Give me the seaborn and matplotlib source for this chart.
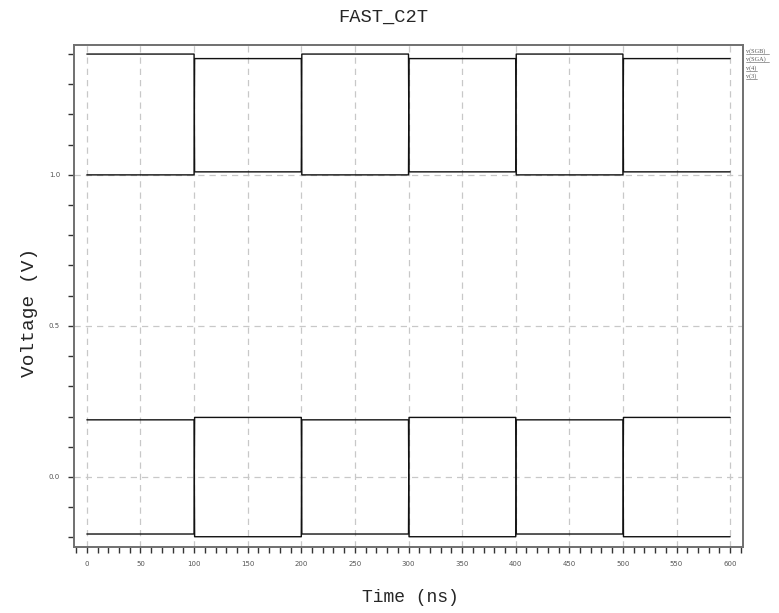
import matplotlib
matplotlib.use("Agg")
import matplotlib.pyplot as plt
from matplotlib.ticker import MultipleLocator
import seaborn as sns
import pandas as pd

# ---- data ----
time_sgb = [0, 100, 100.5, 200, 200.5, 300, 300.5, 400, 400.5, 500, 500.5, 600]
v_sgb    = [1.40, 1.40, 1.01, 1.01, 1.40, 1.40, 1.01, 1.01, 1.40, 1.40, 1.01, 1.01]
time_sga = [0, 100, 100.5, 200, 200.5, 300, 300.5, 400, 400.5, 500, 500.5, 600]
v_sga    = [1.00, 1.00, 1.385, 1.385, 1.00, 1.00, 1.385, 1.385, 1.00, 1.00, 1.385, 1.385]
time_4   = [0, 100, 100.5, 200, 200.5, 300, 300.5, 400, 400.5, 500, 500.5, 600]
v_4      = [0.189, 0.189, -0.198, -0.198, 0.189, 0.189, -0.198, -0.198, 0.189, 0.189, -0.198, -0.198]
time_3   = [0, 100, 100.5, 200, 200.5, 300, 300.5, 400, 400.5, 500, 500.5, 600]
v_3      = [-0.189, -0.189, 0.197, 0.197, -0.189, -0.189, 0.197, 0.197, -0.189, -0.189, 0.197, 0.197]
signals  = ["v(SGB)", "v(SGA)", "v(4)", "v(3)"]
x_ticks  = [0, 50, 100, 150, 200, 250, 300, 350, 400, 450, 500, 550, 600]
y_ticks  = [0.0, 0.5, 1.0]

frames = []
for name, t, v in zip(signals, [time_sgb, time_sga, time_4, time_3], [v_sgb, v_sga, v_4, v_3]):
    frames.append(pd.DataFrame({"time": t, "voltage": v, "signal": name}))
df = pd.concat(frames, ignore_index=True)

sns.set_style("white")
plt.rcParams["font.family"] = ["DejaVu Sans"]

fig = plt.figure(figsize=(7.79, 6.13), dpi=100)
ax = fig.add_axes([74 / 779, 1 - 547 / 613, (743 - 74) / 779, (547 - 45) / 613])

sns.lineplot(data=df, x="time", y="voltage", hue="signal", units="signal",
             estimator=None, sort=False, palette=["#111111"] * 4,
             linewidth=1.0, legend=False, ax=ax)

ax.set_xlim(-12, 612)
ax.set_ylim(-0.232, 1.43)
ax.set_xticks(x_ticks)
ax.set_xticklabels([str(v) for v in x_ticks])
ax.set_yticks(y_ticks)
ax.set_yticklabels([f"{v:.1f}" for v in y_ticks])
ax.xaxis.set_minor_locator(MultipleLocator(10))
ax.yaxis.set_minor_locator(MultipleLocator(0.1))

ax.grid(True, which="major", linestyle=(0, (5, 4)), color="#c8c8c8", linewidth=0.9)
ax.set_axisbelow(True)

for s in ax.spines.values():
    s.set_visible(True)
    s.set_color("#707070")
    s.set_linewidth(1.4)

ax.tick_params(axis="both", which="major", direction="out", length=4, width=1,
               color="#333333", labelsize=5, labelcolor="#555555", pad=6,
               left=True, bottom=True)
ax.tick_params(axis="both", which="minor", direction="out", length=4, width=1,
               color="#333333", left=True, bottom=True)

ax.set_xlabel("")
ax.set_ylabel("")
fig.text(410 / 779, 1 - 598 / 613, "Time (ns)", family="Liberation Mono",
         fontsize=13, ha="center", va="center")
fig.text(30 / 779, 1 - 312 / 613, "Voltage (V)", family="Liberation Mono",
         fontsize=14, ha="center", va="center", rotation=90)
fig.text(383 / 779, 1 - 17 / 613, "FAST_C2T", family="Liberation Mono",
         fontsize=13.5, ha="center", va="center")

legend_y = [51, 59, 68, 76]
for name, yp in zip(signals, legend_y):
    fig.text(746 / 779, 1 - yp / 613, name, fontsize=4.5, color="#555555",
             family="Liberation Serif", va="center", ha="left")
    fig.add_artist(plt.Line2D([746 / 779, 769 / 779 if "SG" in name else 757 / 779],
                              [1 - (yp + 3) / 613] * 2, color="#777777", linewidth=0.5))

fig.savefig("out.png", dpi=100)
